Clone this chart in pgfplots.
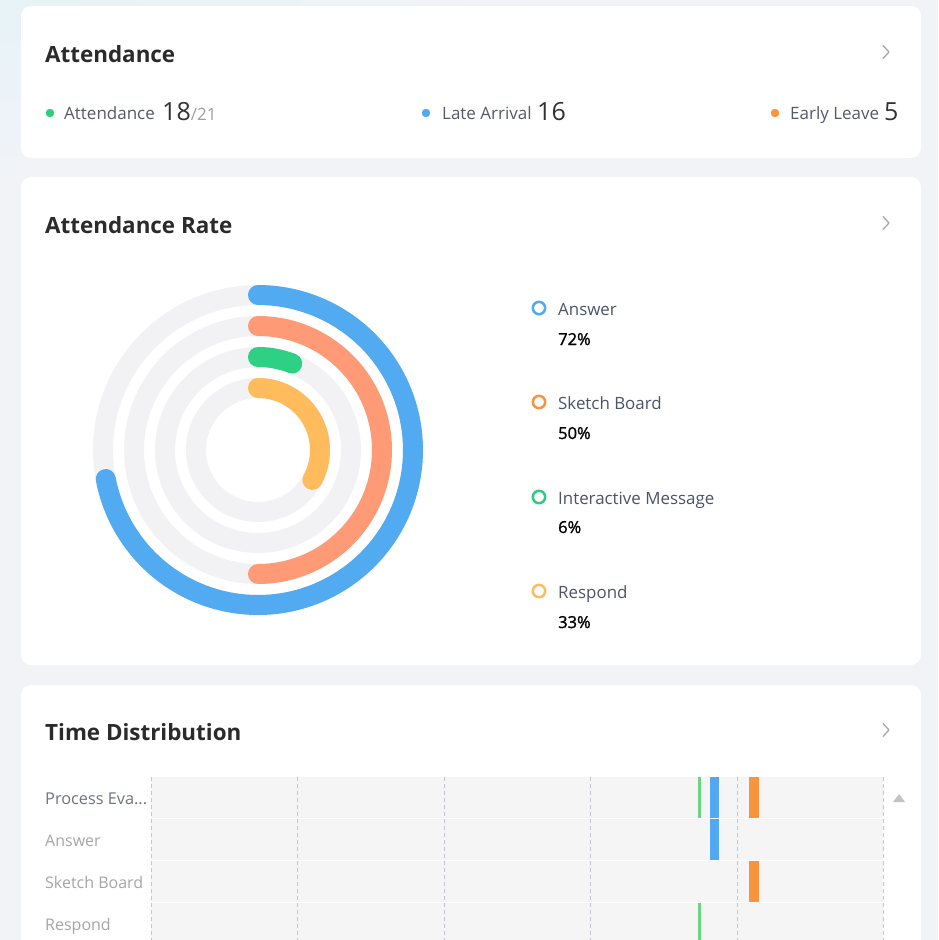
\documentclass[border=0pt]{standalone}
\usepackage{fontspec}
\setmainfont{Open Sans}
\newfontfamily\semib{Open Sans}[FakeBold=1.3]
\usepackage{pgfplots}
\pgfplotsset{compat=1.18}
\definecolor{pagebg}{HTML}{F2F3F7}
\definecolor{tint}{HTML}{E7F3F6}
\definecolor{titlec}{HTML}{2B2B2B}
\definecolor{labc}{HTML}{555A6A}
\definecolor{legc}{HTML}{4E5468}
\definecolor{numc}{HTML}{333333}
\definecolor{greyc}{HTML}{A0A0A0}
\definecolor{chevc}{HTML}{A8A8A8}
\definecolor{trackc}{HTML}{F2F2F4}
\definecolor{ringblue}{HTML}{52ABF0}
\definecolor{ringorange}{HTML}{FF9A76}
\definecolor{ringgreen}{HTML}{2ED084}
\definecolor{ringyellow}{HTML}{FFBB5C}
\definecolor{dotgreen}{HTML}{2ECC7F}
\definecolor{dotblue}{HTML}{52A8F2}
\definecolor{dotorange}{HTML}{F7943C}
\definecolor{rowbg}{HTML}{F5F5F5}
\definecolor{gridc}{HTML}{C4C4D6}
\definecolor{bargreen}{HTML}{6DD482}
\definecolor{rowlab}{HTML}{A6A6A6}
\definecolor{rowlabdark}{HTML}{6E7387}
\begin{document}
\begin{tikzpicture}
\begin{axis}[
  width=938pt, height=940pt, scale only axis,
  xmin=0, xmax=938, ymin=0, ymax=940, y dir=reverse,
  hide axis, clip=true,
]
% page background
\fill[pagebg] (axis cs:0,0) rectangle (axis cs:938,940);
\shade[left color=tint, right color=pagebg] (axis cs:0,0) rectangle (axis cs:600,30);
\shade[top color=tint, bottom color=pagebg] (axis cs:0,0) rectangle (axis cs:21,200);
% cards
\fill[white, rounded corners=10pt] (axis cs:21,6) rectangle (axis cs:921,158);
\fill[white, rounded corners=10pt] (axis cs:21,177) rectangle (axis cs:921,665);
\fill[white, rounded corners=10pt] (axis cs:21,685) rectangle (axis cs:921,980);

% ---------- Card 1 ----------
\node[anchor=base west, inner sep=0, text=titlec, font=\fontsize{22.4}{26}\selectfont\bfseries] at (axis cs:45,62) {Attendance};
\draw[chevc, line width=1.3pt, line cap=round, line join=round] (axis cs:883,45.5) -- (axis cs:889,52) -- (axis cs:883,58.5);
\addplot[only marks, mark=*, mark size=4pt, color=dotgreen] coordinates {(50,113)};
\addplot[only marks, mark=*, mark size=4pt, color=dotblue] coordinates {(426,113)};
\addplot[only marks, mark=*, mark size=4pt, color=dotorange] coordinates {(775,113)};
\node[anchor=base west, inner sep=0, text=labc, font=\fontsize{17}{20}\selectfont] at (axis cs:64,119) {Attendance};
\node[anchor=base west, inner sep=0, text=numc] at (axis cs:162,120.5) {\fontsize{25}{30}\selectfont 18\fontsize{17}{20}\selectfont\color{greyc}/21};
\node[anchor=base west, inner sep=0, text=labc, font=\fontsize{17}{20}\selectfont] at (axis cs:442,119) {Late Arrival};
\node[anchor=base west, inner sep=0, text=numc, font=\fontsize{25}{30}\selectfont] at (axis cs:537,120.5) {16};
\node[anchor=base west, inner sep=0, text=labc, font=\fontsize{17}{20}\selectfont] at (axis cs:790,119) {Early Leave};
\node[anchor=base west, inner sep=0, text=numc, font=\fontsize{25}{30}\selectfont] at (axis cs:884,120.5) {5};

% ---------- Card 2 ----------
\node[anchor=base west, inner sep=0, text=titlec, font=\fontsize{22.4}{26}\selectfont\bfseries] at (axis cs:45,233) {Attendance Rate};
\draw[chevc, line width=1.3pt, line cap=round, line join=round] (axis cs:883,216.5) -- (axis cs:889,223) -- (axis cs:883,229.5);
% tracks (full circles, 100 %)
\addplot[draw=trackc, line width=20pt, domain=0:100, samples=181] ({258+155*cos(90-3.6*x)}, {450-155*sin(90-3.6*x)});
\addplot[draw=trackc, line width=20pt, domain=0:100, samples=181] ({258+124*cos(90-3.6*x)}, {450-124*sin(90-3.6*x)});
\addplot[draw=trackc, line width=20pt, domain=0:100, samples=181] ({258+93*cos(90-3.6*x)}, {450-93*sin(90-3.6*x)});
\addplot[draw=trackc, line width=20pt, domain=0:100, samples=181] ({258+62*cos(90-3.6*x)}, {450-62*sin(90-3.6*x)});
% value arcs: Answer 72, Sketch Board 50, Interactive Message 6, Respond 33
\addplot[draw=ringblue, line width=20pt, line cap=round, domain=0:72, samples=130] ({258+155*cos(90-3.6*x)}, {450-155*sin(90-3.6*x)});
\addplot[draw=ringorange, line width=20pt, line cap=round, domain=0:50, samples=100] ({258+124*cos(90-3.6*x)}, {450-124*sin(90-3.6*x)});
\addplot[draw=ringgreen, line width=20pt, line cap=round, domain=0:6, samples=20] ({258+93*cos(90-3.6*x)}, {450-93*sin(90-3.6*x)});
\addplot[draw=ringyellow, line width=20pt, line cap=round, domain=0:33, samples=60] ({258+62*cos(90-3.6*x)}, {450-62*sin(90-3.6*x)});
% legend
\addplot[only marks, mark=o, mark size=6.2pt, line width=2.5pt, color=dotblue] coordinates {(539,308)};
\addplot[only marks, mark=o, mark size=6.2pt, line width=2.5pt, color=dotorange] coordinates {(539,402)};
\addplot[only marks, mark=o, mark size=6.2pt, line width=2.5pt, color=dotgreen] coordinates {(539,497)};
\addplot[only marks, mark=o, mark size=6.2pt, line width=2.5pt, color=ringyellow] coordinates {(539,591)};
\node[anchor=base west, inner sep=0, text=legc, font=\fontsize{16.9}{20}\selectfont] at (axis cs:558,315) {Answer};
\node[anchor=base west, inner sep=0, text=black, font=\fontsize{16.5}{20}\semib] at (axis cs:558,345) {72\%};
\node[anchor=base west, inner sep=0, text=legc, font=\fontsize{16.9}{20}\selectfont] at (axis cs:558,409) {Sketch Board};
\node[anchor=base west, inner sep=0, text=black, font=\fontsize{16.5}{20}\semib] at (axis cs:558,439) {50\%};
\node[anchor=base west, inner sep=0, text=legc, font=\fontsize{16.9}{20}\selectfont] at (axis cs:558,504) {Interactive Message};
\node[anchor=base west, inner sep=0, text=black, font=\fontsize{16.5}{20}\semib] at (axis cs:558,533) {6\%};
\node[anchor=base west, inner sep=0, text=legc, font=\fontsize{16.9}{20}\selectfont] at (axis cs:558,598) {Respond};
\node[anchor=base west, inner sep=0, text=black, font=\fontsize{16.5}{20}\semib] at (axis cs:558,628) {33\%};

% ---------- Card 3 ----------
\node[anchor=base west, inner sep=0, text=titlec, font=\fontsize{22.4}{26}\selectfont\bfseries] at (axis cs:45,740) {Time Distribution};
\draw[chevc, line width=1.3pt, line cap=round, line join=round] (axis cs:883,723.5) -- (axis cs:889,730) -- (axis cs:883,736.5);
\fill[rowbg] (axis cs:151,777) rectangle (axis cs:883,945);
\draw[white, line width=1.6pt] (axis cs:151,818.5) -- (axis cs:883,818.5);
\draw[white, line width=1.6pt] (axis cs:151,860.5) -- (axis cs:883,860.5);
\draw[white, line width=1.6pt] (axis cs:151,902.5) -- (axis cs:883,902.5);
\draw[gridc, line width=1pt, dash pattern=on 4pt off 3pt] (axis cs:151,777) -- (axis cs:151,945);
\draw[gridc, line width=1pt, dash pattern=on 4pt off 3pt] (axis cs:297.5,777) -- (axis cs:297.5,945);
\draw[gridc, line width=1pt, dash pattern=on 4pt off 3pt] (axis cs:444,777) -- (axis cs:444,945);
\draw[gridc, line width=1pt, dash pattern=on 4pt off 3pt] (axis cs:590.5,777) -- (axis cs:590.5,945);
\draw[gridc, line width=1pt, dash pattern=on 4pt off 3pt] (axis cs:737,777) -- (axis cs:737,945);
\draw[gridc, line width=1pt, dash pattern=on 4pt off 3pt] (axis cs:883,777) -- (axis cs:883,945);
% bars (row: Process Eva... / Answer / Sketch Board / Respond)
\addplot[fill=bargreen, draw=none] coordinates {(698,777) (701,777) (701,817.7) (698,817.7)} -- cycle;
\addplot[fill=dotblue, draw=none] coordinates {(710,777) (719,777) (719,817.7) (710,817.7)} -- cycle;
\addplot[fill=dotorange, draw=none] coordinates {(749,777) (759,777) (759,817.7) (749,817.7)} -- cycle;
\addplot[fill=dotblue, draw=none] coordinates {(710,819.3) (719,819.3) (719,859.7) (710,859.7)} -- cycle;
\addplot[fill=dotorange, draw=none] coordinates {(749,861.3) (759,861.3) (759,901.7) (749,901.7)} -- cycle;
\addplot[fill=bargreen, draw=none] coordinates {(698,903.3) (701,903.3) (701,945) (698,945)} -- cycle;
\node[anchor=base west, inner sep=0, text=rowlabdark, font=\fontsize{16.3}{20}\selectfont] at (axis cs:45,804) {Process Eva...};
\node[anchor=base west, inner sep=0, text=rowlab, font=\fontsize{16}{20}\selectfont] at (axis cs:45,846) {Answer};
\node[anchor=base west, inner sep=0, text=rowlab, font=\fontsize{16}{20}\selectfont] at (axis cs:45,888) {Sketch Board};
\node[anchor=base west, inner sep=0, text=rowlab, font=\fontsize{16}{20}\selectfont] at (axis cs:45,930) {Respond};
\fill[chevc!70] (axis cs:893,802) -- (axis cs:905,802) -- (axis cs:899,794) -- cycle;
\end{axis}
\end{tikzpicture}
\end{document}
